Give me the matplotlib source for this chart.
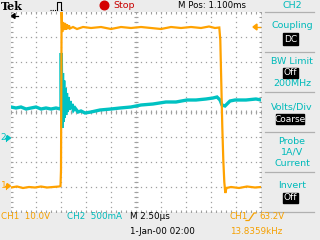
import matplotlib
matplotlib.use("Agg")
import matplotlib.pyplot as plt
from matplotlib.patches import Circle, Polygon, Rectangle

# CH1: drain voltage (V), sampled times in microseconds from left edge
ch1_t = [0.0, 0.6, 1.2, 1.8, 2.4, 3.0, 3.6, 4.2, 4.8, 4.95, 5.0, 5.06,
         5.12, 5.2, 5.3, 5.4, 5.5, 5.6, 5.7, 5.8, 5.9, 6.2, 6.6, 7.2, 8.0,
         9.0, 10.0, 11.0, 12.0, 13.0, 14.0, 15.0, 16.0, 17.0, 18.0, 19.0,
         19.8, 20.4, 20.83, 20.93, 21.03, 21.13, 21.23, 21.33, 21.43, 21.55,
         22.0, 22.8, 23.6, 24.4, 25.0]
ch1_v = [-0.6, -0.2, -0.8, -0.4, -0.6, -0.2, -0.6, -0.4, -0.2, 0.0, 6.4, 69.6,
         61.6, 65.6, 62.4, 65.2, 62.6, 64.6, 62.8, 64.2, 63.0, 63.6, 62.8, 63.6, 63.2,
         63.6, 62.8, 63.6, 63.2, 63.6, 63.2, 62.8, 63.6, 63.2, 63.6, 63.2,
         63.8, 63.2, 63.4, 58.4, 41.2, 23.6, 10.4, 1.6, -2.8, -0.8,
         -0.4, -0.8, -0.2, -0.6, -0.4]

# CH2: current (A)
ch2_t = [0.0, 0.5, 1.0, 1.5, 2.0, 2.5, 3.0, 3.5, 4.0, 4.5, 4.95, 5.0,
         5.03, 5.08, 5.15, 5.2, 5.27, 5.33, 5.4, 5.47, 5.55, 5.62, 5.7, 5.8,
         5.9, 6.0, 6.1, 6.25, 6.4, 6.7, 7.0, 7.4, 8.0, 8.9, 10.0, 10.9,
         12.0, 13.0, 14.2, 15.5, 16.5, 17.6, 18.5, 19.5, 20.2, 20.6, 20.9,
         21.1, 21.4, 21.6, 21.9, 22.4, 23.5, 24.5, 25.0]
ch2_a = [0.62, 0.60, 0.62, 0.58, 0.60, 0.62, 0.58, 0.60, 0.58, 0.60, 0.58, 0.60,
         1.70, 0.20, 1.30, 0.32, 1.15, 0.40, 1.00, 0.46, 0.90, 0.52, 0.82, 0.56,
         0.74, 0.58, 0.68, 0.56, 0.60, 0.52, 0.54, 0.50, 0.52, 0.56, 0.58, 0.60,
         0.62, 0.66, 0.68, 0.72, 0.72, 0.76, 0.76, 0.78, 0.80, 0.82, 0.76,
         0.66, 0.64, 0.68, 0.74, 0.76, 0.76, 0.78, 0.76]

t_div = 2.5        # us/div
ch1_scale = 10.0   # V/div
ch2_scale = 0.5    # A/div
ch1_pos = -2.96    # div
ch2_pos = -1.04    # div

BG = "#ECECEC"
ORANGE = "#FFA200"
ORANGE_TXT = "#F5A000"
CYAN = "#00C2C2"
CYAN_TXT = "#00BABA"
GRID = "#A0A0A0"
SEP = "#B0B0B0"

fig = plt.figure(figsize=(3.2, 2.4), dpi=100, facecolor=BG)

# scope screen, 10 x 8 divisions
ax = fig.add_axes([11 / 320, 28 / 240, 250 / 320, 200 / 240])
ax.set_facecolor("white")
ax.set_xlim(0, 10 * t_div)
ax.set_ylim(-4, 4)
ax.set_xticks([])
ax.set_yticks([])
for s in ax.spines.values():
    s.set_visible(False)

minor_x = [i * t_div / 5 for i in range(51)]
minor_y = [-4 + i * 0.2 for i in range(41)]
dot = dict(ls="none", marker="s", ms=0.9, mew=0, color=GRID)
for k in range(1, 10):
    ax.plot([k * t_div] * len(minor_y), minor_y, **dot)
for k in range(-3, 4):
    ax.plot(minor_x, [k] * len(minor_x), **dot)
ax.plot([5 * t_div] * len(minor_y), minor_y, ls="none", marker="_", ms=3, mew=0.8, color=GRID)
ax.plot(minor_x, [0] * len(minor_x), ls="none", marker="|", ms=3, mew=0.8, color=GRID)
for yy in (-4, 4):
    ax.plot(minor_x, [yy] * len(minor_x), ls="none", marker="|", ms=3.5, mew=0.8, color=GRID)
for xx in (0, 10 * t_div):
    ax.plot([xx] * len(minor_y), minor_y, ls="none", marker="_", ms=3.5, mew=0.8, color=GRID)

ch2_y = [a / ch2_scale + ch2_pos for a in ch2_a]
ch1_y = [v / ch1_scale + ch1_pos for v in ch1_v]
ax.plot(ch2_t, ch2_y, color=CYAN, lw=2.4, solid_joinstyle="miter")
ax.plot(ch1_t, ch1_y, color=ORANGE, lw=1.6, solid_joinstyle="miter")

# overlay in pixel coordinates
ov = fig.add_axes([0, 0, 1, 1])
ov.set_xlim(0, 320)
ov.set_ylim(240, 0)
ov.axis("off")

ov.text(1, 6.5, "Tek", family="DejaVu Serif", weight="bold", fontsize=8, va="center")
ov.plot([50, 56.5], [10, 10], color="k", lw=0.8, ls=(0, (1, 1)))
ov.plot([56.5, 56.5, 60.5, 60.5], [10, 2, 2, 10], color="k", lw=0.8)
ov.plot([60.5, 63], [10, 10], color="k", lw=0.8, ls=(0, (1, 1)))
ov.add_patch(Circle((104.5, 5.5), 4.3, color="#D40000"))
ov.text(113, 5.8, "Stop", color="#C80000", fontsize=6.8, va="center")
ov.text(178, 5.8, "M Pos: 1.100ms", color="k", fontsize=6.2, va="center")
ov.text(292, 5.8, "CH2", color=CYAN_TXT, fontsize=6.8, va="center", ha="center")

# position arrows
ov.add_patch(Polygon([(11.5, 16), (15, 13.5), (15, 18.5)], color="k"))
ov.plot([14, 18], [16, 16], color="k", lw=0.9)
ov.add_patch(Polygon([(253, 27), (257, 24), (257, 30)], color=ORANGE))
ov.plot([256, 260], [27, 27], color=ORANGE, lw=1)
for lab, ypx, col in (("1", 186, ORANGE), ("2", 138, CYAN)):
    ov.text(0.5, ypx, lab, color=col, fontsize=6.5, va="center")
    ov.add_patch(Polygon([(10.5, ypx), (7, ypx - 2.5), (7, ypx + 2.5)], color=col))
    ov.plot([5, 8], [ypx, ypx], color=col, lw=1)
    ov.plot([6, 6], [ypx - 2.5, ypx + 2.5], color=col, lw=0.8)

# bottom readouts
ov.text(1, 216.5, "CH1  10.0V", color=ORANGE_TXT, fontsize=6.3, va="center")
ov.text(67, 216.5, "CH2  500mA", color=CYAN_TXT, fontsize=6.3, va="center")
ov.text(130, 216.5, "M 2.50µs", color="k", fontsize=6.3, va="center")
ov.text(130, 232, "1-Jan-00 02:00", color="k", fontsize=6.3, va="center")
ov.text(230, 216.5, "CH1", color=ORANGE_TXT, fontsize=6.3, va="center")
ov.plot([246, 249, 254, 256], [220.5, 220.5, 213, 213], color=ORANGE_TXT, lw=0.9)
ov.text(259, 216.5, "63.2V", color=ORANGE_TXT, fontsize=6.3, va="center")
ov.text(230, 232, "13.8359kHz", color=ORANGE_TXT, fontsize=6.3, va="center")

# side menu
for ypx in (12, 52, 92, 132, 172, 212):
    ov.plot([265, 314], [ypx, ypx], color=SEP, lw=0.9)

menu = [("Coupling", 26), ("BW Limit", 61), ("200MHz", 84), ("Volts/Div", 107),
        ("Probe", 141), ("1A/V", 152), ("Current", 163), ("Invert", 186)]
for s, ypx in menu:
    ov.text(292, ypx, s, color=CYAN_TXT, fontsize=6.8, va="center", ha="center")

boxes = [("DC", 283, 33, 15, 12, 39), ("Off", 283, 67.5, 15, 10, 72.5),
         ("Coarse", 276, 114, 28, 10, 119), ("Off", 283, 193, 15, 10, 198)]
for s, bx, by, bw, bh, ty in boxes:
    ov.add_patch(Rectangle((bx, by), bw, bh, color="black"))
    ov.text(bx + bw / 2, ty, s, color="white", fontsize=6.5, va="center", ha="center")

fig.savefig("out.png", dpi=100, facecolor=BG)
